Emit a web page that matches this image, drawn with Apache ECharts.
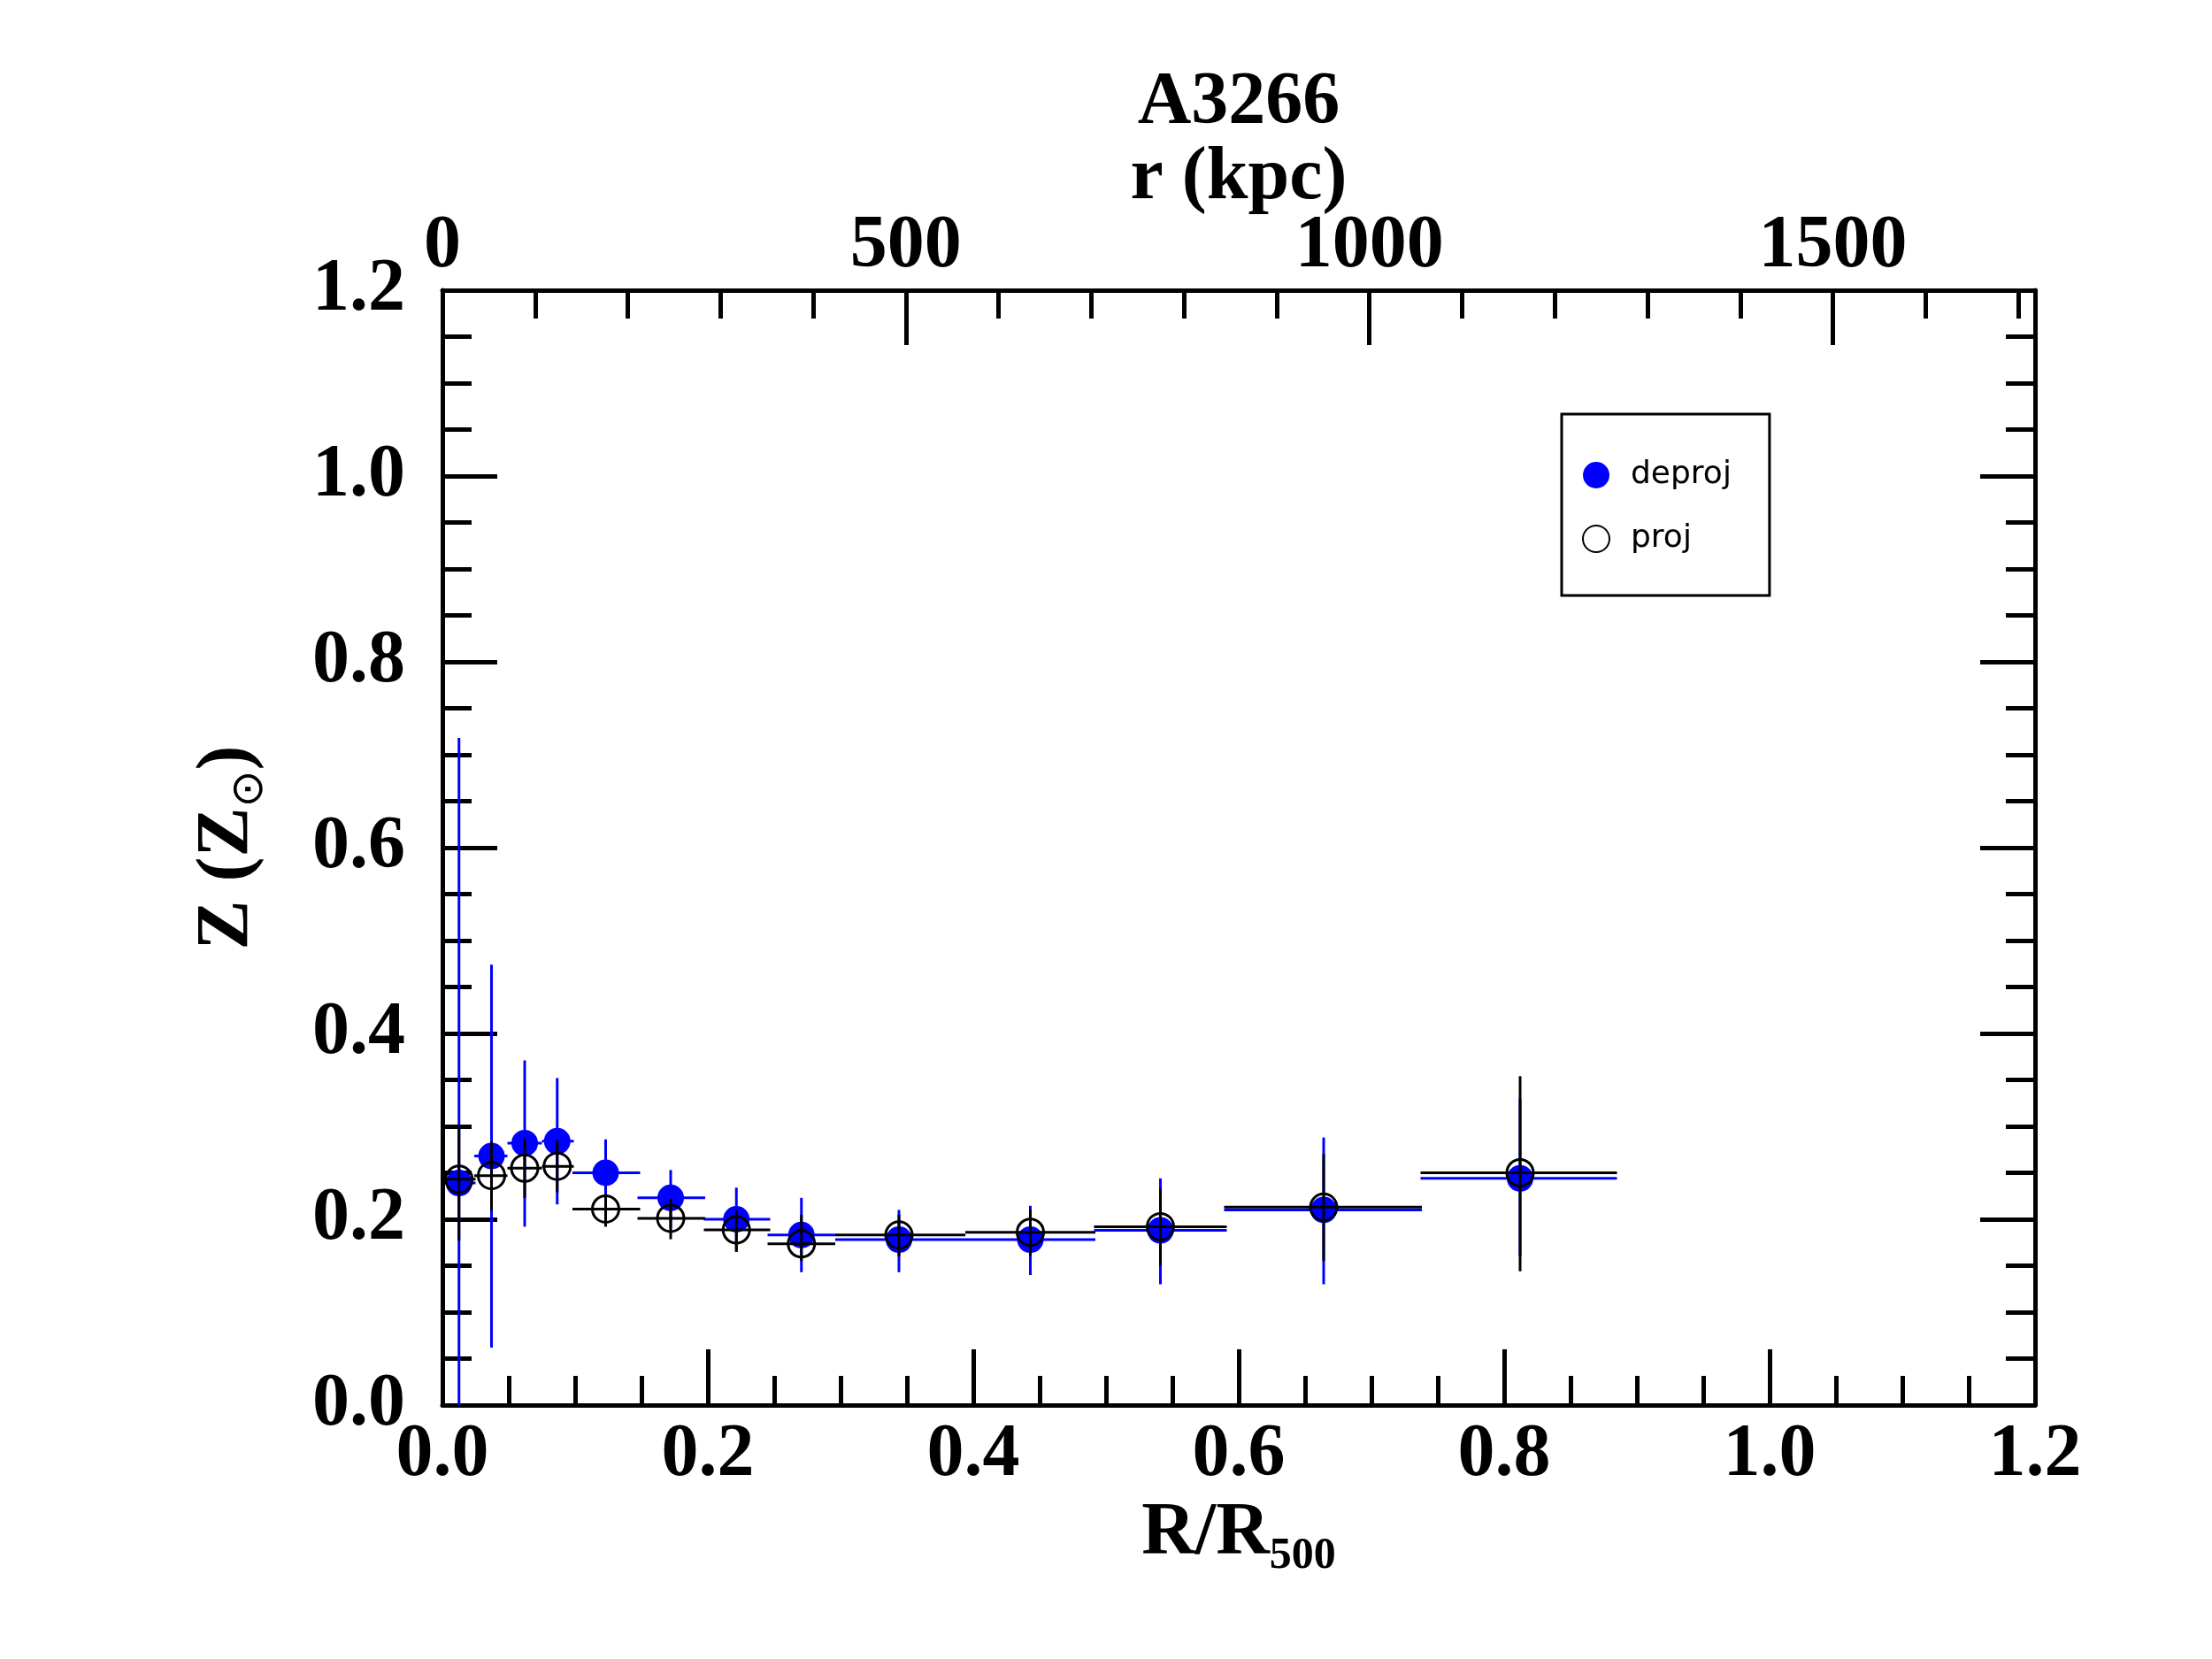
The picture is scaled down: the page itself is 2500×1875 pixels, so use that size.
<!DOCTYPE html>
<html style="height:100%">
<head>
<meta charset="utf-8">
</head>
<body style="height:100%; margin: 0">
<div id="container" style="width:2500px; height:1875px"></div>
<script src="https://cdn.jsdelivr.net/npm/echarts@6/dist/echarts.min.js"></script>
<script type="text/javascript">
// bins in R/R500
var xCenter = [0.0125, 0.037, 0.062, 0.0865, 0.123, 0.172, 0.2215, 0.2705, 0.344, 0.443, 0.541, 0.664, 0.812];
var xLo     = [0.002, 0.024, 0.049, 0.075, 0.098, 0.147, 0.197, 0.245, 0.296, 0.394, 0.491, 0.589, 0.737];
var xHi     = [0.025, 0.049, 0.075, 0.099, 0.149, 0.198, 0.247, 0.296, 0.394, 0.492, 0.591, 0.738, 0.885];

// deprojected metallicity
var deprojZ  = [0.239, 0.268, 0.282, 0.284, 0.250, 0.223, 0.200, 0.183, 0.178, 0.178, 0.188, 0.210, 0.244];
var deprojLo = [0.000, 0.062, 0.192, 0.216, 0.215, 0.190, 0.165, 0.143, 0.143, 0.140, 0.130, 0.130, 0.160];
var deprojHi = [0.718, 0.474, 0.371, 0.352, 0.286, 0.253, 0.234, 0.223, 0.210, 0.2145, 0.244, 0.288, 0.330];

// projected metallicity
var projZ  = [0.243, 0.247, 0.255, 0.257, 0.211, 0.201, 0.1885, 0.1735, 0.183, 0.186, 0.192, 0.213, 0.250];
var projLo = [0.177, 0.2095, 0.223, 0.229, 0.192, 0.1785, 0.165, 0.155, 0.160, 0.161, 0.150, 0.155, 0.144];
var projHi = [0.302, 0.284, 0.287, 0.285, 0.227, 0.222, 0.210, 0.205, 0.205, 0.2105, 0.233, 0.270, 0.354];

// top axis range in kpc (matches 1.2 R500)
var kpcMax = 1718;

var serif = 'Liberation Serif';

function rows(z, lo, hi) {
    var out = [];
    for (var i = 0; i < xCenter.length; i++) {
        out.push([xCenter[i], xLo[i], xHi[i], z[i], lo[i], hi[i]]);
    }
    return out;
}

function errRender(color) {
    return function (params, api) {
        var l = api.coord([api.value(1), api.value(3)]);
        var r = api.coord([api.value(2), api.value(3)]);
        var t = api.coord([api.value(0), api.value(5)]);
        var b = api.coord([api.value(0), api.value(4)]);
        var st = { stroke: color, lineWidth: 3 };
        return {
            type: 'group',
            children: [
                { type: 'line', shape: { x1: l[0], y1: l[1], x2: r[0], y2: r[1] }, style: st },
                { type: 'line', shape: { x1: t[0], y1: t[1], x2: b[0], y2: b[1] }, style: st }
            ]
        };
    };
}

var dom = document.getElementById("container");
var myChart = echarts.init(dom);

var tickLine = { color: '#000', width: 5 };
var labelFont = { fontFamily: serif, fontWeight: 'bold', fontSize: 84, lineHeight: 84, color: '#000' };

var option = {
    backgroundColor: '#fff',
    animation: false,
    grid: { left: 500, right: 200, top: 328, bottom: 287, containLabel: false },
    legend: {
        data: ['deproj', 'proj'],
        orient: 'vertical',
        left: 1765,
        top: 468,
        borderColor: '#000',
        borderWidth: 3,
        padding: [51, 43, 46, 23],
        itemGap: 36,
        itemWidth: 30,
        itemHeight: 30,
        textStyle: { fontFamily: 'DejaVu Sans', fontSize: 36, lineHeight: 30, color: '#000', padding: [0, 0, 0, 19] }
    },
    xAxis: [
        {
            type: 'value', position: 'bottom', min: 0, max: 1.2, interval: 0.2,
            axisLine: { onZero: false, lineStyle: tickLine },
            axisTick: { inside: true, length: 63, lineStyle: tickLine },
            minorTick: { show: true, splitNumber: 4, length: 33, lineStyle: tickLine },
            splitLine: { show: false },
            axisLabel: Object.assign({ margin: 15, formatter: function (v) { return v.toFixed(1); } }, labelFont),
            name: '{a|R/R}{s|500}',
            nameLocation: 'middle',
            nameGap: 84,
            nameTextStyle: {
                rich: {
                    a: { fontFamily: serif, fontWeight: 'bold', fontSize: 84, lineHeight: 100, color: '#000' },
                    s: { fontFamily: serif, fontWeight: 'bold', fontSize: 50, lineHeight: 36, verticalAlign: 'bottom', color: '#000' }
                }
            }
        },
        {
            type: 'value', position: 'top', min: 0, max: kpcMax, interval: 500,
            axisLine: { onZero: false, lineStyle: tickLine },
            axisTick: { inside: true, length: 62, lineStyle: tickLine },
            splitLine: { show: false },
            axisLabel: Object.assign({ margin: 7, formatter: function (v) { return v % 500 === 0 ? String(v) : ''; } }, labelFont),
            name: 'A3266\nr (kpc)',
            nameLocation: 'middle',
            nameGap: 83,
            nameMoveOverlap: false,
            nameTextStyle: { fontFamily: serif, fontWeight: 'bold', fontSize: 84, lineHeight: 85, color: '#000' }
        },
        {
            type: 'value', position: 'top', min: 0, max: kpcMax, interval: 100,
            axisLine: { show: false, onZero: false },
            axisTick: { inside: true, length: 32, lineStyle: tickLine },
            splitLine: { show: false },
            axisLabel: { show: false }
        }
    ],
    yAxis: [
        {
            type: 'value', position: 'left', min: 0, max: 1.2, interval: 0.2,
            axisLine: { show: true, onZero: false, lineStyle: tickLine },
            axisTick: { show: true, inside: true, length: 62, lineStyle: tickLine },
            minorTick: { show: true, splitNumber: 4, length: 33, lineStyle: tickLine },
            splitLine: { show: false },
            axisLabel: Object.assign({ margin: 42, formatter: function (v) { return v.toFixed(1); } }, labelFont),
            name: '{a|Z (Z}{s|⊙}{a|)}',
            nameLocation: 'middle',
            nameRotate: 90,
            nameGap: 192,
            nameTextStyle: {
                rich: {
                    a: { fontFamily: serif, fontWeight: 'bold', fontSize: 84, lineHeight: 100, color: '#000' },
                    s: { fontFamily: 'DejaVu Sans', fontSize: 50, lineHeight: 40, verticalAlign: 'bottom', color: '#000' }
                }
            }
        },
        {
            type: 'value', position: 'right', min: 0, max: 1.2, interval: 0.2,
            axisLine: { show: true, onZero: false, lineStyle: tickLine },
            axisTick: { show: true, inside: true, length: 62, lineStyle: tickLine },
            minorTick: { show: true, splitNumber: 4, length: 33, lineStyle: tickLine },
            splitLine: { show: false },
            axisLabel: { show: false }
        }
    ],
    series: [
        {
            type: 'custom', name: 'deproj-err', z: 2,
            xAxisIndex: 0, yAxisIndex: 0,
            renderItem: errRender('#0000ff'),
            data: rows(deprojZ, deprojLo, deprojHi)
        },
        {
            type: 'scatter', name: 'deproj', z: 3,
            xAxisIndex: 0, yAxisIndex: 0,
            symbol: 'circle', symbolSize: 30,
            itemStyle: { color: '#0000ff', opacity: 1 },
            data: rows(deprojZ, deprojLo, deprojHi).map(function (r) { return [r[0], r[3]]; })
        },
        {
            type: 'custom', name: 'proj-err', z: 4,
            xAxisIndex: 0, yAxisIndex: 0,
            renderItem: errRender('#000000'),
            data: rows(projZ, projLo, projHi)
        },
        {
            type: 'scatter', name: 'proj', z: 5,
            xAxisIndex: 0, yAxisIndex: 0,
            symbol: 'circle', symbolSize: 30,
            itemStyle: { color: 'rgba(0,0,0,0)', borderColor: '#000', borderWidth: 3, opacity: 1 },
            data: rows(projZ, projLo, projHi).map(function (r) { return [r[0], r[3]]; })
        }
    ]
};

myChart.setOption(option);
</script>
</body>
</html>
